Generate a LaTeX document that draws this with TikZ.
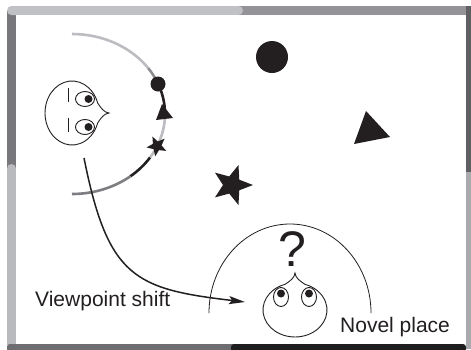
\documentclass[tikz,border=0pt]{standalone}
\usepackage{fontspec}
\setmainfont{Liberation Sans}
\usetikzlibrary{arrows.meta}

\definecolor{barlight}{HTML}{C0C1C5}
\definecolor{barmid}{HTML}{949498}
\definecolor{leftdark}{HTML}{78787C}
\definecolor{leftlight}{HTML}{B9BABE}
\definecolor{rightdark}{HTML}{606064}
\definecolor{rightlight}{HTML}{AAAAAE}
\definecolor{bottomgray}{HTML}{6E6E72}
\definecolor{bottomdark}{HTML}{1E1E1E}
\definecolor{inkblack}{HTML}{231F20}
\definecolor{pathlight}{HTML}{BCBDC1}
\definecolor{pathmid}{HTML}{8C8C90}
\definecolor{pathdark}{HTML}{7E7E82}

\tikzset{
  headline/.style={draw=inkblack, line width=0.9pt},
  routeseg/.style={line width=2.6pt},
  lbl/.style={font=\fontsize{21}{25}\selectfont, text=inkblack, inner sep=0pt},
  pics/head/.style={code={
    % face outline: round body with a pointed nose along +x
    \draw[headline] (37,0) .. controls (32,-0.5) and (29,-5) .. (25.7,-9.9)
      arc[start angle=-18, end angle=-342, x radius=27, y radius=32]
      .. controls (29,5) and (32,0.5) .. (37,0) -- cycle;
    % eyes looking forward
    \foreach \s in {-1,1} {
      \draw[headline] (13,\s*14) ellipse[x radius=9.5, y radius=7.5];
      \fill[inkblack] (16.5,\s*14) circle[radius=4];
    }
  }},
  pics/fivestar/.style args={#1/#2}{code={
    \fill[inkblack] (0:#1) \foreach \a in {36,108,180,252,324} { -- (\a:#2) -- (\a+36:#1) } -- cycle;
  }}
}

\begin{document}
\begin{tikzpicture}[x=1pt,y=-1pt]
\useasboundingbox (0,0) rectangle (471,349);
\fill[white] (0,0) rectangle (471,349);

% ---- frame ----
\fill[barmid] (235,6) rectangle (471,15);
\fill[leftdark] (7,11) rectangle (16,168);
\fill[barlight, rounded corners=4.5pt] (7,6) rectangle (243,15);
\fill[leftlight, rounded corners=4.5pt] (7,164) rectangle (16,349);
\fill[rightdark] (466,6) rectangle (471,176);
\fill[rightlight] (466,172) rectangle (471,349);
\fill[bottomgray, rounded corners=3pt] (7,344) rectangle (236,352);
\fill[bottomdark, rounded corners=3pt] (231,344) rectangle (466,352);
\fill[white] (16,15) rectangle (466,344);

% ---- first viewpoint ----
\coordinate (h1) at (72,113);
\pic at (h1) {head};
\draw[headline] (68,88) -- (68,102);
\draw[headline] (68,118) -- (68,132);

% route around the first viewpoint
\coordinate (r1) at (72,114);
\draw[routeseg, pathlight] ([shift={(-90:93 and 80)}]r1) arc[start angle=-90, end angle=-35, x radius=93, y radius=80];
\draw[routeseg, pathmid] ([shift={(-35:93 and 80)}]r1) arc[start angle=-35, end angle=-22, x radius=93, y radius=80];
\draw[routeseg, inkblack] ([shift={(-22:93 and 80)}]r1) arc[start angle=-22, end angle=3, x radius=93, y radius=80];
\draw[routeseg, pathlight] ([shift={(3:93 and 80)}]r1) arc[start angle=3, end angle=33, x radius=93, y radius=80];
\draw[routeseg, inkblack] ([shift={(33:93 and 80)}]r1) arc[start angle=33, end angle=51, x radius=93, y radius=80];
\draw[routeseg, pathdark] ([shift={(51:93 and 80)}]r1) arc[start angle=51, end angle=90, x radius=93, y radius=80];

% landmarks along the route
\fill[inkblack] (158,84) circle[radius=7.5];
\fill[inkblack] (162,104) -- (173,118) -- (156,120) -- cycle;
\pic[rotate=-100] at (157,146) {fivestar=10.5/4.6};

% ---- landmarks in the scene ----
\fill[inkblack] (272,57) circle[radius=16];
\fill[inkblack] (366,111) -- (390,137) -- (354,144) -- cycle;
\pic at (232,185) {fivestar=21/9};

% ---- novel place ----
\coordinate (h2) at (295,310);
\draw[headline, line width=0.8pt] (209,313) arc[start angle=180, end angle=360, x radius=81, y radius=89];
\pic[rotate=90] at (h2) {head};
\node[font=\fontsize{50}{50}\selectfont, text=inkblack, inner sep=0pt] (q) at (292,249) {?};

% ---- viewpoint shift ----
\coordinate (shiftstart) at (84,158);
\coordinate (shiftend) at (245,302);
\draw[inkblack, line width=1.5pt, -{Stealth[length=16pt, width=8pt, inset=3pt]}]
  (shiftstart) .. controls (108,278) and (135,289) .. (shiftend);

\node[lbl, anchor=base west] (vs) at (35,306) {Viewpoint shift};
\node[lbl, anchor=base west] (np) at (340,332) {Novel place};
\end{tikzpicture}
\end{document}
